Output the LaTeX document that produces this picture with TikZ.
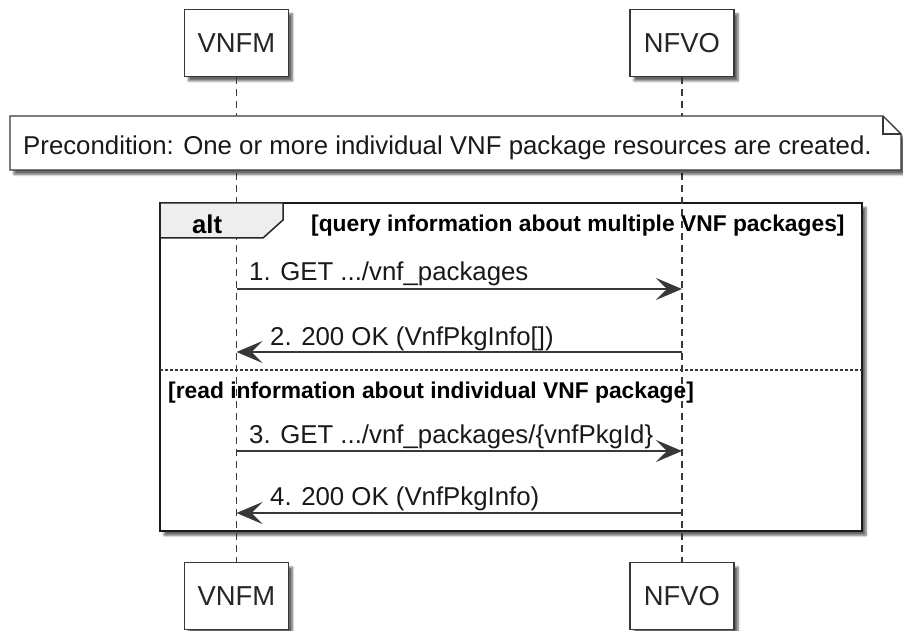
\documentclass[tikz,border=0pt]{standalone}
\usepackage{fontspec}
\setmainfont{Liberation Sans}
\usetikzlibrary{arrows.meta,shadows.blur}
\definecolor{lc}{RGB}{56,56,56}
\definecolor{tabfill}{RGB}{238,238,238}
\begin{document}
\begin{tikzpicture}[x=1pt,y=-1pt,
  myshadow/.style={blur shadow={shadow xshift=4pt,shadow yshift=-4.5pt,shadow blur radius=2pt,shadow blur steps=6,shadow opacity=60}},
  part/.style={draw=lc,line width=1.4pt,fill=white,minimum width=104pt,minimum height=67pt,inner sep=0pt,font=\fontsize{27.4}{30}\selectfont,text=black!85,myshadow},
  life/.style={draw=lc,line width=1.2pt,dash pattern=on 7pt off 5pt},
  msg/.style={draw=lc,line width=1.6pt,-{Stealth[length=26pt,width=22pt,inset=11pt]}},
  msgtxt/.style={anchor=base west,inner sep=0pt,font=\fontsize{25.8}{30}\selectfont,text=black!90},
  guard/.style={anchor=base west,inner sep=0pt,font=\bfseries\fontsize{22.8}{26}\selectfont},
  notebox/.style={draw=lc,line width=1.4pt,fill=white,myshadow}]
\useasboundingbox (0,0) rectangle (903,631);
% alt frame
\draw[line width=2.8pt,draw=black!90,fill=white,myshadow] (160,203) rectangle (862,531);
% participants
\node[part] (vnfmT) at (236.5,43) {VNFM};
\node[part] (nfvoT) at (682,43) {NFVO};
\node[part] (vnfmB) at (236.5,596) {VNFM};
\node[part] (nfvoB) at (682,596) {NFVO};
% lifelines
\draw[life] (vnfmT.south) -- (vnfmB.north);
\draw[life] (nfvoT.south) -- (nfvoB.north);
% alt tab
\draw[line width=1.5pt,draw=black!85,fill=tabfill] (160,203) -- (283,203) -- (283,220) -- (263,238) -- (160,238) -- cycle;
\node[anchor=base west,inner sep=0pt,font=\bfseries\fontsize{25.7}{28}\selectfont] (alt) at (192,234) {alt};
\node[guard] (g1) at (311,232) {[query information about multiple VNF packages]};
\draw[line width=1.3pt,draw=lc,dash pattern=on 2.5pt off 2.5pt] (160,370) -- (862,370);
\node[guard] (g2) at (168,398) {[read information about individual VNF package]};
% note
\draw[notebox] (10,116) -- (883,116) -- (901,134) -- (901,170) -- (10,170) -- cycle;
\draw[draw=lc,line width=1.2pt] (883,116) -- (883,134) -- (901,134);
\node[anchor=base west,inner sep=0pt,font=\fontsize{25.8}{30}\selectfont,text=black!90] (note) at (23,155) {Precondition: One or more individual VNF package resources are created.};
% messages
\coordinate (y1) at (0,289);
\coordinate (y2) at (0,352);
\coordinate (y3) at (0,451);
\coordinate (y4) at (0,513);
\coordinate (v1) at (vnfmT.south |- y1);
\coordinate (n1) at (nfvoT.south |- y1);
\coordinate (v2) at (vnfmT.south |- y2);
\coordinate (n2) at (nfvoT.south |- y2);
\coordinate (v3) at (vnfmT.south |- y3);
\coordinate (n3) at (nfvoT.south |- y3);
\coordinate (v4) at (vnfmT.south |- y4);
\coordinate (n4) at (nfvoT.south |- y4);
\draw[msg] (v1) -- (n1);
\draw[msg] (n2) -- (v2);
\draw[msg] (v3) -- (n3);
\draw[msg] (n4) -- (v4);
\node[msgtxt] (t1) at (249,281) {1. GET .../vnf\_packages};
\node[msgtxt] (t2) at (270,345) {2. 200 OK (VnfPkgInfo[])};
\node[msgtxt] (t3) at (249,443) {3. GET .../vnf\_packages/\{vnfPkgId\}};
\node[msgtxt] (t4) at (270,505) {4. 200 OK (VnfPkgInfo)};
\end{tikzpicture}
\end{document}
